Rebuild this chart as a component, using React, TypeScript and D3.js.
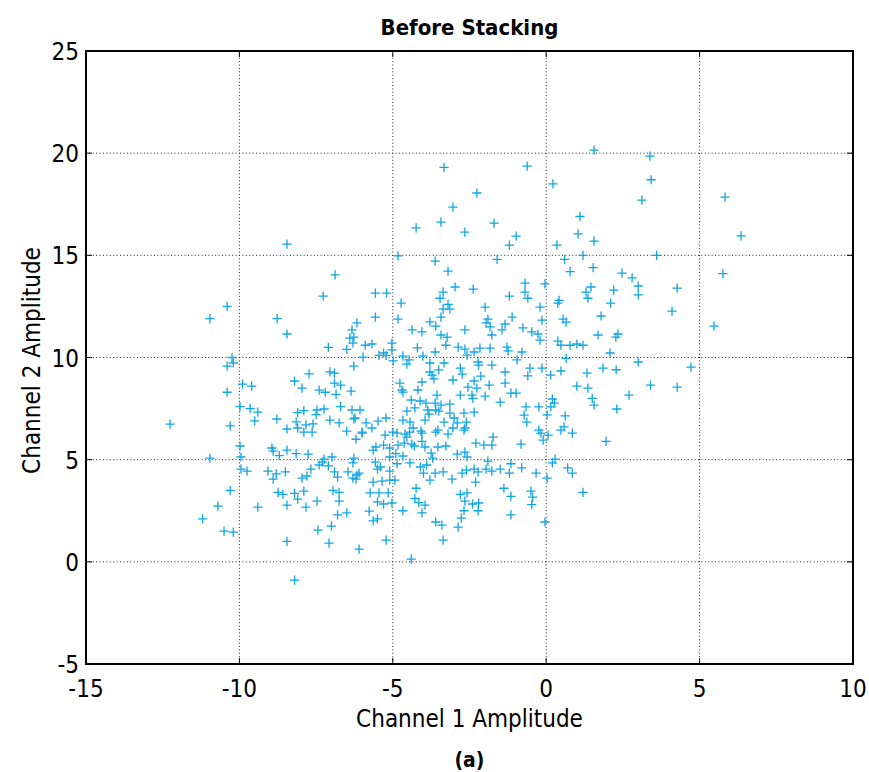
import React from "react";
import * as d3 from "d3";

const TITLE = "Before Stacking";
const X_LABEL = "Channel 1 Amplitude";
const Y_LABEL = "Channel 2 Amplitude";
const CAPTION = "(a)";
const X_TICKS = [-15, -10, -5, 0, 5, 10];
const Y_TICKS = [-5, 0, 5, 10, 15, 20, 25];

// [channel 1 amplitude, channel 2 amplitude]
const samples: [number, number][] = [
  [-12.26,6.74],[-11.2,2.1],[-10.96,5.08],[-10.96,11.9],[-10.7,2.73],[-10.5,1.5],[-10.4,12.5],[-10.3,3.5],[-10.2,1.45],[-10.24,10.0],[-10.4,9.58],[-10.2,9.73],[-9.9,8.7],[-9.6,8.6],[-10.4,8.3],[-9.98,7.6],[-9.65,7.5],[-9.4,7.33],[-9.5,6.9],[-8.78,6.99],[-8.45,6.5],[-10.3,6.65],[-8.77,11.9],[-8.45,11.15],[-7.27,13.0],[-7.1,10.5],[-6.5,10.4],[-6.33,11.35],[-6.4,10.95],[-6.3,10.7],
  [-8.2,8.85],[-7.96,8.5],[-7.73,9.2],[-7.4,8.4],[-7.2,8.3],[-7.05,9.3],[-6.9,9.24],[-6.9,8.75],[-6.7,8.65],[-6.85,8.2],[-6.36,8.35],[-6.7,7.6],[-6.33,7.43],[-8.1,7.3],[-7.9,7.4],[-7.47,7.43],[-7.24,7.48],[-7.5,7.2],[-8.15,6.85],[-7.83,6.7],[-7.6,6.75],[-8.1,6.55],[-7.05,6.94],[-6.75,6.8],[-6.5,6.4],[-6.27,7.0],[-7.9,6.35],[-7.63,6.35],
  [-8.45,15.55],[-6.88,14.04],
  [-9.98,5.67],[-9.95,5.13],[-9.95,4.54],[-9.75,4.44],[-9.4,2.68],[-8.45,1.0],[-8.2,-0.9],[-8.94,5.57],[-8.9,5.42],[-8.7,5.2],[-8.45,5.47],[-8.15,5.3],[-7.76,5.27],[-9.07,4.44],[-8.8,4.3],[-8.9,4.05],[-8.5,4.4],[-7.96,4.1],[-7.8,4.2],[-7.67,4.54],[-7.4,4.74],[-7.3,4.88],[-7.24,5.03],[-7.1,4.7],[-6.98,5.13],[-6.9,4.4],[-6.8,4.15],[-6.46,4.4],[-6.3,4.84],[-6.3,4.1],
  [-8.74,3.4],[-8.58,3.3],[-8.2,3.35],[-7.9,3.46],[-8.1,3.07],[-8.45,2.78],[-7.83,2.68],[-7.47,2.97],[-6.95,3.5],[-6.75,3.4],[-6.75,2.97],[-6.8,2.3],[-6.5,2.4],[-7.0,1.75],[-7.44,1.55],[-7.08,0.92],
  [-6.1,0.62],[-5.22,1.06],[-4.4,0.13],[-3.36,1.06],[-2.87,1.7],[-2.77,2.14],[-3.6,1.95],[-3.4,1.8],[-2.68,2.5],[-2.22,2.5],[-2.4,2.83],[-2.2,2.88],[-2.65,2.97],[-2.8,3.3],[-2.58,3.37],[-1.15,2.3],[-1.15,3.2],[-1.38,3.6],[-0.47,2.8],[-0.44,3.17],[-0.5,3.46],[-0.04,1.95],[0.03,4.1],[-0.33,4.34],[-0.8,4.6],[-1.2,4.34],[-1.15,4.8],[-1.5,4.54],[-1.77,4.44],[-1.96,4.54],[-2.22,4.4],[-2.35,4.54],[-2.3,3.9],[-2.6,4.49],[-2.74,4.34],[-3.07,4.05],[-3.36,4.4],[-3.62,4.34],[-3.79,4.0],[-3.9,4.74],[-4.1,4.64],[-4.0,4.34],[-4.44,4.84],[-4.86,4.8],[-4.24,3.6],[-4.28,3.1],[-4.15,2.9],[-3.95,2.78],[-4.05,2.4],[-4.67,2.5],[-5.03,2.88],[-5.3,2.83],[-5.5,2.93],[-5.45,3.37],[-5.15,3.37],[-5.74,3.37],[-5.77,2.48],[-5.64,2.0],[-5.5,2.1],[-5.64,3.9],[-5.35,3.95],[-5.1,4.0],[-4.93,4.0],[-6.2,4.05],[-6.17,4.25],[-5.5,4.54],[-5.4,4.64],[-5.57,4.88],[-5.1,4.44],[-5.1,5.13],[-4.67,5.18],[-6.27,5.08],
  [-5.64,5.47],[-5.55,5.62],[-5.3,5.71],[-5.1,5.57],[-4.83,5.71],[-4.63,5.81],[-4.38,5.76],[-4.3,5.67],[-4.05,5.9],[-3.95,5.62],[-3.75,5.32],[-3.7,5.08],[-3.53,5.62],[-3.27,5.67],[-2.9,5.27],[-2.65,5.37],[-2.58,5.13],[-2.29,5.81],[-2.03,5.71],[-1.77,5.71],[-1.73,6.1],[-1.9,4.93],[-0.82,5.76],[-0.17,6.3],[-0.1,5.96],[-5.25,6.2],[-4.86,6.3],[-4.6,6.25],[-4.45,6.35],[-4.05,6.3],[-3.6,6.35],[-3.2,6.25],[-2.68,6.45],[-4.54,6.1],[-6.2,6.0],[-6.0,6.3],[-4.9,5.3],[-6.1,4.34],
  [0.06,6.2],[0.48,6.45],[0.85,6.3],[1.95,5.9],[0.29,5.03],[0.2,4.84],[0.7,4.6],[0.85,4.34],[1.2,3.4],
  [-3.33,19.3],[-0.62,19.37],[-2.26,18.05],[-3.04,17.36],[-3.43,16.63],[-1.7,16.58],[-4.24,16.34],[-2.65,16.14],[-0.98,15.94],[-1.2,15.5],[-4.83,14.97],[-3.62,14.72],[-1.6,14.8],[-3.2,14.23],[-2.97,13.45],[-2.38,13.35],[-0.69,13.64],[-0.04,13.6],
  [1.56,20.15],[3.38,19.86],[0.22,18.5],[3.42,18.7],[5.83,17.85],[3.12,17.7],[1.1,16.9],[1.04,16.05],[1.56,15.7],[0.35,15.5],[6.35,15.95],[1.2,15.0],[3.6,15.0],[0.6,14.8],[1.53,14.4],[0.78,14.2],[2.47,14.13],[2.8,13.9],[5.76,14.1],[3.0,13.5],[4.27,13.4],[1.46,13.45],[2.2,13.3],
  [1.3,13.2],[3.0,13.06],[1.36,12.9],[0.42,12.8],[0.38,12.66],[2.1,12.66],[4.1,12.27],[1.79,12.03],[0.55,11.88],[0.65,11.73],[5.47,11.54],[1.69,11.1],[2.34,11.15],[2.27,11.0],[0.38,10.8],[0.48,10.6],[0.78,10.6],[1.0,10.66],[1.2,10.6],[2.08,10.22],[0.65,9.96],[3.0,9.78],[4.72,9.53],[1.85,9.48],[2.28,9.4],[0.48,9.34],[0.15,9.14],[1.33,9.24],[1.0,8.6],[1.36,8.5],[3.4,8.65],[4.27,8.55],[2.7,8.16],[0.2,7.97],[0.27,7.77],[0.15,7.58],[1.56,7.67],[1.5,8.0],[2.3,7.48],[0.62,7.14],[0.58,6.6],[0.03,7.19],
  [-5.57,13.15],[-5.2,13.15],[-4.73,12.66],[-5.57,11.98],[-4.83,11.88],[-6.17,11.69],[-4.37,11.35],[-4.05,11.25],[-3.79,11.74],[-3.6,11.54],[-3.43,11.98],[-3.36,12.37],[-3.2,12.6],[-3.14,12.37],[-3.46,12.9],[-3.36,13.2],[-1.99,12.47],[-1.2,13.0],[-0.69,13.2],[-0.6,12.9],[-0.2,12.47],[-1.11,11.98],[-1.9,11.88],[-1.96,11.69],[-1.83,11.5],[-1.34,11.64],[-1.44,11.35],[-1.77,11.1],[-2.65,11.35],[-3.43,11.1],[-3.23,11.0],[-3.27,10.6],[-0.76,11.45],[-0.47,11.25],[-0.27,11.15],[-0.14,11.83],[-0.2,10.85],[-6.27,11.0],[-5.9,10.6],[-5.68,10.66],[-5.03,10.7],[-5.03,10.37],[-4.2,10.47],[-5.3,10.22],[-5.45,10.1],[-5.22,10.1],[-5.97,10.02],[-4.67,10.07],[-4.47,9.88],[-4.54,9.68],[-4.02,10.07],[-3.62,10.27],[-2.87,10.51],[-2.65,10.41],[-2.58,10.12],[-2.35,10.27],[-2.16,10.46],[-1.83,10.46],[-1.28,10.51],[-1.24,10.32],[-0.79,10.27],[-0.95,9.88],[-4.99,9.83],[-6.27,9.58],[-3.79,9.73],[-3.33,9.73],[-2.8,9.48],[-2.22,9.78],[-2.2,9.63],[-1.77,9.63],[-0.53,9.48],[-0.14,9.48],[-3.79,9.29],[-3.5,9.39],[-3.72,9.14],[-2.74,9.19],[-1.34,9.29],[-0.6,9.1],[-2.13,9.09],[-3.66,8.95],[-4.05,8.8],[-3.04,8.9],[-2.35,8.85],[-1.86,8.65],[-1.34,8.75],[-4.77,8.75],[-4.7,8.41],[-4.67,8.31],[-4.18,8.41],[-2.55,8.55],[-2.26,8.5],[-2.42,8.16],[-2.8,8.16],[-1.99,8.11],[-1.15,8.26],[-0.98,8.26],[-2.39,8.0],[-4.4,7.92],[-4.11,7.87],[-3.92,7.77],[-3.56,8.16],[-3.62,7.77],[-3.43,7.67],[-3.14,7.72],[-1.5,7.82],[-4.54,7.38],[-4.28,7.53],[-3.86,7.43],[-3.82,7.23],[-3.6,7.43],[-3.5,7.38],[-3.14,7.28],[-2.68,7.28],[-2.35,7.33],[-0.66,7.58],[-0.24,7.58],[-0.72,7.18],[-6.07,7.43],[-6.23,7.04],[-5.87,6.8],[-5.48,6.89],[-5.22,7.04],[-5.68,6.55],[-6.0,6.35],[-4.67,6.94],[-4.44,6.84],[-3.95,6.94],[-3.33,6.84],[-3.0,7.04],[-2.9,6.8],[-2.6,6.84],[-2.65,6.55],[-3.04,6.55],[-4.34,6.55],[-4.08,6.4],[-3.53,6.45],[-0.63,6.84],[-0.24,6.45],[-5.0,6.35],
];

const W = 869;
const H = 772;
const M = { left: 86, right: 853, top: 51, bottom: 664 };
const FONT = "'DejaVu Sans Condensed', 'DejaVu Sans', sans-serif";
const MARK = "#0fa6e2";

export default function App() {
  const x = d3.scaleLinear().domain([-15, 10]).range([M.left, M.right]);
  const y = d3.scaleLinear().domain([-5, 25]).range([M.bottom, M.top]);
  const arm = 4.6;
  const tick = 6;
  return (
    <svg width={W} height={H} style={{ position: "absolute", left: 0, top: 0, background: "#fff" }}>
      <rect x={0} y={0} width={W} height={H} fill="#fff" />
      {X_TICKS.slice(1, -1).map((t) => (
        <line key={"gx" + t} x1={x(t)} x2={x(t)} y1={M.top} y2={M.bottom} stroke="#222" strokeWidth={1} strokeDasharray="1,2.4" />
      ))}
      {Y_TICKS.slice(1, -1).map((t) => (
        <line key={"gy" + t} x1={M.left} x2={M.right} y1={y(t)} y2={y(t)} stroke="#222" strokeWidth={1} strokeDasharray="1,2.4" />
      ))}
      {X_TICKS.map((t) => (
        <g key={"tx" + t}>
          <line x1={x(t)} x2={x(t)} y1={M.bottom} y2={M.bottom - tick} stroke="#000" strokeWidth={1} />
          <line x1={x(t)} x2={x(t)} y1={M.top} y2={M.top + tick} stroke="#000" strokeWidth={1} />
          <text x={x(t)} y={697} textAnchor="middle" fontFamily={FONT} fontSize={24} fill="#000">{t}</text>
        </g>
      ))}
      {Y_TICKS.map((t) => (
        <g key={"ty" + t}>
          <line x1={M.left} x2={M.left + tick} y1={y(t)} y2={y(t)} stroke="#000" strokeWidth={1} />
          <line x1={M.right} x2={M.right - tick} y1={y(t)} y2={y(t)} stroke="#000" strokeWidth={1} />
          <text x={79} y={y(t) + 9} textAnchor="end" fontFamily={FONT} fontSize={24} fill="#000">{t}</text>
        </g>
      ))}
      {samples.map(([a, b], i) => {
        const cx = x(a);
        const cy = y(b);
        return (
          <path key={i} d={`M${cx - arm},${cy}H${cx + arm}M${cx},${cy - arm}V${cy + arm}`} stroke={MARK} strokeWidth={1.3} fill="none" />
        );
      })}
      <rect x={M.left} y={M.top} width={M.right - M.left} height={M.bottom - M.top} fill="none" stroke="#000" strokeWidth={2} />
      <text x={(M.left + M.right) / 2} y={35} textAnchor="middle" fontFamily={FONT} fontSize={22} fontWeight="bold" fill="#000">{TITLE}</text>
      <text x={(M.left + M.right) / 2} y={727} textAnchor="middle" fontFamily={FONT} fontSize={24} fill="#000">{X_LABEL}</text>
      <text transform={`translate(40,${(M.top + M.bottom) / 2 + 3}) rotate(-90)`} textAnchor="middle" fontFamily={FONT} fontSize={24} fill="#000">{Y_LABEL}</text>
      <text x={(M.left + M.right) / 2} y={767} textAnchor="middle" fontFamily={FONT} fontSize={21} fontWeight="bold" fill="#000">{CAPTION}</text>
    </svg>
  );
}
